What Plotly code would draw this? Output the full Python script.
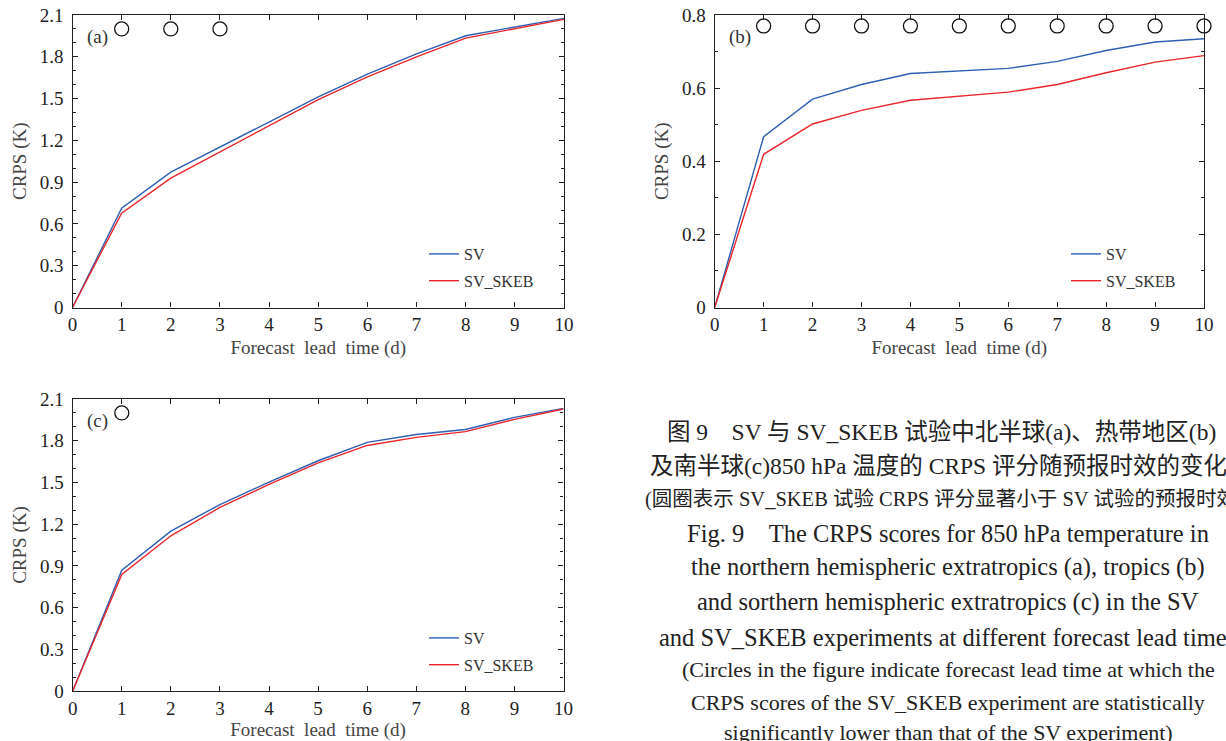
import plotly.graph_objects as go

W, H = 1226, 741

lead = [0, 1, 2, 3, 4, 5, 6, 7, 8, 9, 10]
x_ticks = [0, 1, 2, 3, 4, 5, 6, 7, 8, 9, 10]

# (a) northern hemispheric extratropics
sv_a = [0, 0.713, 0.972, 1.154, 1.332, 1.512, 1.675, 1.821, 1.951, 2.013, 2.076]
skeb_a = [0, 0.677, 0.929, 1.116, 1.300, 1.493, 1.656, 1.800, 1.934, 2.004, 2.069]
sig_a = [1, 2, 3]

# (b) tropics
sv_b = [0, 0.467, 0.570, 0.610, 0.640, 0.648, 0.654, 0.673, 0.703, 0.726, 0.735]
skeb_b = [0, 0.419, 0.502, 0.539, 0.567, 0.579, 0.589, 0.610, 0.642, 0.671, 0.689]
sig_b = [1, 2, 3, 4, 5, 6, 7, 8, 9, 10]

# (c) southern hemispheric extratropics
sv_c = [0, 0.869, 1.150, 1.341, 1.502, 1.656, 1.788, 1.845, 1.881, 1.968, 2.033]
skeb_c = [0, 0.838, 1.116, 1.320, 1.486, 1.641, 1.766, 1.824, 1.865, 1.953, 2.028]
sig_c = [1]

y_ticks_ac = [0, 0.3, 0.6, 0.9, 1.2, 1.5, 1.8, 2.1]
y_labels_ac = ["0", "0.3", "0.6", "0.9", "1.2", "1.5", "1.8", "2.1"]
y_ticks_b = [0, 0.2, 0.4, 0.6, 0.8]
y_labels_b = ["0", "0.2", "0.4", "0.6", "0.8"]

BLUE = "#2f5fb3"
RED = "#e8262b"
SERIF = "Liberation Serif, 'Noto Sans CJK SC', serif"


def px_x(p):
    return p / W


def px_y(p):
    return 1 - p / H


panels = [
    dict(k="", sv=sv_a, sk=skeb_a, sig=sig_a, lvl=2.0, dx=(72.5, 564), dy=(15, 307.5),
         yr=[0, 2.1], yt=y_ticks_ac, yl=y_labels_ac, lab="(a)", leg=(424, 237), leg_name="legend"),
    dict(k="2", sv=sv_b, sk=skeb_b, sig=sig_b, lvl=0.77, dx=(714.7, 1204), dy=(15, 307.5),
         yr=[0, 0.8], yt=y_ticks_b, yl=y_labels_b, lab="(b)", leg=(1066, 237), leg_name="legend2"),
    dict(k="3", sv=sv_c, sk=skeb_c, sig=sig_c, lvl=2.0, dx=(72.7, 563.5), dy=(399, 691),
         yr=[0, 2.1], yt=y_ticks_ac, yl=y_labels_ac, lab="(c)", leg=(424, 621), leg_name="legend3"),
]

fig = go.Figure()
layout = dict(
    width=W, height=H,
    margin=dict(l=0, r=0, t=0, b=0, autoexpand=False),
    paper_bgcolor="white", plot_bgcolor="white",
    font=dict(family=SERIF, size=16, color="#222"),
    showlegend=True,
)

annotations = []
for p in panels:
    k = p["k"]
    xa = "x" + k
    ya = "y" + k
    fig.add_trace(go.Scatter(x=lead, y=p["sv"], mode="lines", name="SV",
                             line=dict(color=BLUE, width=1.4), xaxis=xa, yaxis=ya,
                             legend=p["leg_name"], legendgroup="sv" + k))
    fig.add_trace(go.Scatter(x=lead, y=p["sk"], mode="lines", name="SV_SKEB",
                             line=dict(color=RED, width=1.4), xaxis=xa, yaxis=ya,
                             legend=p["leg_name"], legendgroup="sk" + k))
    fig.add_trace(go.Scatter(x=p["sig"], y=[p["lvl"]] * len(p["sig"]), mode="markers",
                             marker=dict(symbol="circle-open", size=14, color="#111",
                                         line=dict(width=1.3)),
                             showlegend=False, cliponaxis=False, xaxis=xa, yaxis=ya))
    axis_common = dict(showline=True, linecolor="#222", linewidth=1.3, mirror="ticks",
                       ticks="inside", ticklen=5, tickcolor="#222", tickwidth=1.2,
                       showgrid=False, zeroline=False, automargin=False,
                       tickfont=dict(family=SERIF, size=19, color="#222"))
    layout["xaxis" + k] = dict(
        domain=[px_x(p["dx"][0]), px_x(p["dx"][1])], range=[0, 10],
        tickvals=x_ticks, ticktext=[str(v) for v in x_ticks],
        anchor=ya, ticklabelstandoff=0,
        title=dict(text="Forecast  lead  time (d)", font=dict(family=SERIF, size=19, color="#444"),
                   standoff=6),
        **axis_common)
    layout["yaxis" + k] = dict(
        domain=[px_y(p["dy"][1]), px_y(p["dy"][0])], range=p["yr"],
        tickvals=p["yt"], ticktext=p["yl"],
        anchor=xa, ticklabelstandoff=4,
        minor=dict(ticks="inside", dtick=0.1, ticklen=3, tickcolor="#222", tickwidth=1),
        title=dict(text="CRPS (K)", font=dict(family=SERIF, size=19, color="#444"), standoff=8),
        **axis_common)
    layout[p["leg_name"]] = dict(
        x=px_x(p["leg"][0]), y=px_y(p["leg"][1]), xanchor="left", yanchor="top",
        bgcolor="rgba(0,0,0,0)", borderwidth=0, tracegroupgap=3,
        font=dict(family=SERIF, size=16, color="#333"))
    annotations.append(dict(text=p["lab"], x=0.025, y=1 - 22 / 292.5, xref=xa + " domain",
                            yref=ya + " domain", xanchor="left", yanchor="middle", showarrow=False,
                            font=dict(family=SERIF, size=19, color="#333")))

cap_center = 948
captions = [
    ("图 9　SV 与 SV_SKEB 试验中北半球(a)、热带地区(b)", 432, 23.5, "left", 665),
    ("及南半球(c)850 hPa 温度的 CRPS 评分随预报时效的变化", 466, 23.5, "left", 648),
    ("(圆圈表示 SV_SKEB 试验 CRPS 评分显著小于 SV 试验的预报时效)", 499, 20.5, "left", 643),
    ("Fig. 9　The CRPS scores for 850 hPa temperature in", 533, 24.5, "center", cap_center),
    ("the northern hemispheric extratropics (a), tropics (b)", 567, 24.5, "center", cap_center),
    ("and sorthern hemispheric extratropics (c) in the SV", 602, 24.5, "center", cap_center),
    ("and SV_SKEB experiments at different forecast lead times", 637, 24.5, "left", 657),
    ("(Circles in the figure indicate forecast lead time at which the", 669, 22, "center", cap_center),
    ("CRPS scores of the SV_SKEB experiment are statistically", 702, 22, "center", cap_center),
    ("significantly lower than that of the SV experiment)", 732, 22, "center", cap_center),
]
for text, yc, size, anchor, xpos in captions:
    annotations.append(dict(text=text, x=px_x(xpos), y=px_y(yc), xref="paper", yref="paper",
                            xanchor=anchor, yanchor="middle", showarrow=False,
                            font=dict(family=SERIF, size=size, color="#222")))

layout["annotations"] = annotations
fig.update_layout(**layout)
fig.write_html("out.html")
